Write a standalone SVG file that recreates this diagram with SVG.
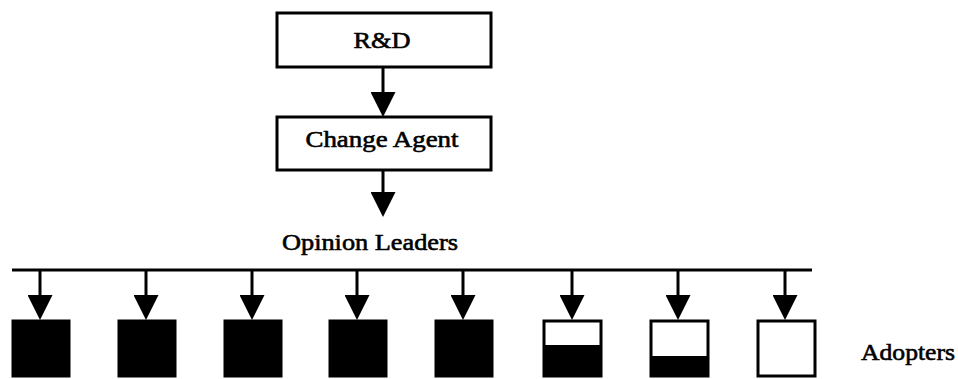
<svg xmlns="http://www.w3.org/2000/svg" width="958" height="379" viewBox="0 0 958 379">
  <style>
    .box { fill: #fff; stroke: #000; stroke-width: 3; }
    .solid { fill: #000; stroke: #000; stroke-width: 3; }
    .fill { fill: #000; }
    .line { stroke: #000; stroke-width: 3; fill: none; }
    .lbl { font-family: "Liberation Serif", "Times New Roman", serif; font-size: 23.5px; fill: #000; stroke: #000; stroke-width: 0.6; }
  </style>
  <defs>
    <marker id="head" viewBox="0 0 25 25" refX="15" refY="12.5" markerWidth="25" markerHeight="25" markerUnits="userSpaceOnUse" orient="auto">
      <path d="M0,0 L25,12.5 L0,25 Z" fill="#000"/>
    </marker>
  </defs>

  <g id="rnd">
    <rect class="box" x="277" y="13" width="214" height="54"/>
    <text class="lbl" x="382" y="48" text-anchor="middle" textLength="57" lengthAdjust="spacingAndGlyphs">R&amp;D</text>
  </g>

  <g id="change-agent">
    <rect class="box" x="277" y="117" width="214" height="53"/>
    <text class="lbl" x="382" y="147" text-anchor="middle" textLength="153" lengthAdjust="spacingAndGlyphs">Change Agent</text>
  </g>

  <g id="opinion-leaders">
    <text class="lbl" x="370" y="250" text-anchor="middle" textLength="176" lengthAdjust="spacingAndGlyphs">Opinion Leaders</text>
  </g>

  <g id="adopter-1"><rect class="solid" x="13" y="321" width="56" height="55"/></g>
  <g id="adopter-2"><rect class="solid" x="119" y="321" width="56" height="55"/></g>
  <g id="adopter-3"><rect class="solid" x="225" y="321" width="56" height="55"/></g>
  <g id="adopter-4"><rect class="solid" x="330" y="321" width="56" height="55"/></g>
  <g id="adopter-5"><rect class="solid" x="436" y="321" width="56" height="55"/></g>
  <g id="adopter-6">
    <rect class="box" x="544" y="321" width="57" height="55"/>
    <rect class="fill" x="544" y="345" width="57" height="31"/>
  </g>
  <g id="adopter-7">
    <rect class="box" x="651" y="321" width="57" height="55"/>
    <rect class="fill" x="651" y="356" width="57" height="20"/>
  </g>
  <g id="adopter-8">
    <rect class="box" x="758" y="321" width="57" height="55"/>
  </g>

  <g id="adopters-label">
    <text class="lbl" x="861" y="360" textLength="94" lengthAdjust="spacingAndGlyphs">Adopters</text>
  </g>

  <g id="connectors">
    <line class="line" x1="383" y1="67" x2="383" y2="107" marker-end="url(#head)"/>
    <line class="line" x1="383" y1="170" x2="383" y2="207" marker-end="url(#head)"/>
    <line class="line" x1="12" y1="270" x2="812" y2="270"/>
    <line class="line" x1="40" y1="270" x2="40" y2="310" marker-end="url(#head)"/>
    <line class="line" x1="146" y1="270" x2="146" y2="310" marker-end="url(#head)"/>
    <line class="line" x1="252" y1="270" x2="252" y2="310" marker-end="url(#head)"/>
    <line class="line" x1="357" y1="270" x2="357" y2="310" marker-end="url(#head)"/>
    <line class="line" x1="463" y1="270" x2="463" y2="310" marker-end="url(#head)"/>
    <line class="line" x1="572" y1="270" x2="572" y2="310" marker-end="url(#head)"/>
    <line class="line" x1="678" y1="270" x2="678" y2="310" marker-end="url(#head)"/>
    <line class="line" x1="785" y1="270" x2="785" y2="310" marker-end="url(#head)"/>
  </g>
</svg>
